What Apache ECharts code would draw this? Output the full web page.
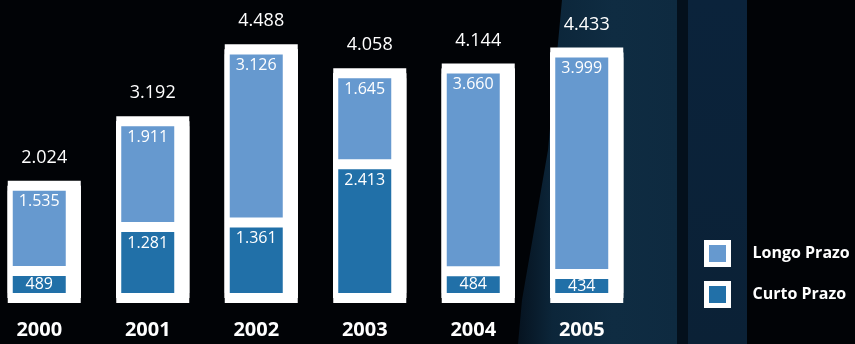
<!DOCTYPE html>
<html>
<head>
<meta charset="utf-8">
<script src="https://cdn.jsdelivr.net/npm/echarts@6/dist/echarts.min.js"></script>
<style>
  html, body { margin: 0; padding: 0; background: #010306; }
  #chart { width: 855px; height: 344px; }
</style>
</head>
<body>
<div id="chart"></div>
<script>
// Endividamento por prazo, 2000–2005
const years = ['2000', '2001', '2002', '2003', '2004', '2005'];
const longoPrazo = [1535, 1911, 3126, 1645, 3660, 3999];
const curtoPrazo = [489, 1281, 1361, 2413, 484, 434];
const totals = [2024, 3192, 4488, 4058, 4144, 4433];

const LIGHT = '#6699cf';
const DARK = '#2170a8';
const FONT = '"Open Sans", "DejaVu Sans", sans-serif';

// 1234 -> "1.234"
function fmt(v) {
  return String(Math.round(v)).replace(/\B(?=(\d{3})+(?!\d))/g, '.');
}

// segment labels sit near the top of a segment, or centred when it is short
function segmentData(values) {
  return values.map(v => ({
    value: v,
    label: v < 700 ? { position: 'inside' } : { position: 'insideTop', distance: 8 }
  }));
}

const chart = echarts.init(document.getElementById('chart'), null, { renderer: 'canvas' });

const frameStyle = (dy) => ({
  color: '#ffffff',
  shadowColor: '#ffffff',
  shadowBlur: 0,
  shadowOffsetX: 0,
  shadowOffsetY: dy
});

const bgShape = (points, fill) => ({
  type: 'polygon', z: -99, silent: true, shape: { points }, style: { fill }
});

chart.setOption({
  backgroundColor: 'transparent',
  animation: false,
  graphic: [
    {
      type: 'rect', z: -100, silent: true,
      shape: { x: 0, y: 0, width: 855, height: 344 },
      style: { fill: '#010306' }
    },
    bgShape([[562, 0], [677, 0], [677, 344], [518, 344], [522, 300], [548, 150]],
      new echarts.graphic.LinearGradient(0, 0, 1, 0, [
        { offset: 0, color: '#061320' },
        { offset: 0.22, color: '#0c263a' },
        { offset: 0.6, color: '#0f2c42' },
        { offset: 1, color: '#0e2a40' }
      ])),
    bgShape([[677, 0], [688, 0], [688, 344], [677, 344]], '#04101c'),
    bgShape([[688, 0], [747, 0], [747, 344], [688, 344]],
      new echarts.graphic.LinearGradient(0, 0, 0, 1, [
        { offset: 0, color: '#0b233b' },
        { offset: 1, color: '#0b2136' }
      ]))
  ],
  grid: { left: -15, width: 651, top: 21, bottom: 46, containLabel: false, outerBoundsMode: 'none' },
  legend: {
    orient: 'vertical',
    left: 704,
    top: 240,
    padding: 0,
    icon: 'rect',
    itemWidth: 22,
    itemHeight: 22,
    itemGap: 14,
    data: ['Longo Prazo', 'Curto Prazo'],
    itemStyle: { borderColor: '#ffffff', borderWidth: 5 },
    textStyle: {
      color: '#ffffff', fontFamily: FONT, fontWeight: 'bold', fontSize: 16,
      padding: [3, 0, 0, 19]
    }
  },
  xAxis: {
    type: 'category',
    data: years,
    axisLine: { show: false },
    axisTick: { show: false },
    axisLabel: {
      color: '#ffffff', fontFamily: FONT, fontWeight: 'bold', fontSize: 20, margin: 22
    }
  },
  yAxis: {
    type: 'value', min: 0, max: 5000, show: false,
    splitLine: { show: false }
  },
  series: [
    // white frame around each column (two passes extend it above and below)
    {
      name: 'frameA', type: 'bar', data: totals, barWidth: 73, barGap: '-100%',
      clip: false, z: 1, silent: true,
      itemStyle: frameStyle(5),
      label: {
        show: true, position: 'top', distance: 19,
        color: '#ffffff', fontFamily: FONT, fontSize: 18,
        formatter: p => fmt(p.value)
      }
    },
    {
      name: 'frameB', type: 'bar', data: totals, barWidth: 73, barGap: '-100%',
      clip: false, z: 1, silent: true,
      itemStyle: frameStyle(-5)
    },
    {
      name: 'Curto Prazo', type: 'bar', stack: 'divida', barWidth: 63, barGap: '-100%', z: 3,
      data: segmentData(curtoPrazo),
      itemStyle: { color: DARK, borderColor: '#ffffff', borderWidth: 5 },
      label: {
        show: true, color: '#ffffff', fontFamily: FONT, fontSize: 16,
        formatter: p => fmt(p.value)
      }
    },
    {
      name: 'Longo Prazo', type: 'bar', stack: 'divida', barWidth: 63, barGap: '-100%', z: 3,
      data: segmentData(longoPrazo),
      itemStyle: { color: LIGHT, borderColor: '#ffffff', borderWidth: 5 },
      label: {
        show: true, color: '#ffffff', fontFamily: FONT, fontSize: 16,
        formatter: p => fmt(p.value)
      }
    }
  ]
});
</script>
</body>
</html>
